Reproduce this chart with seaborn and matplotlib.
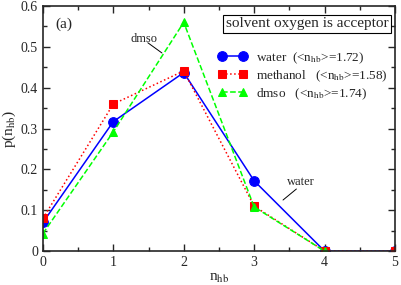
import matplotlib
matplotlib.use("Agg")
import matplotlib.pyplot as plt
from matplotlib.ticker import MultipleLocator, FormatStrFormatter
import seaborn as sns

n_hb = [0, 1, 2, 3, 4, 5]
water = [0.070, 0.317, 0.437, 0.172, 0.0, 0.0]
methanol = [0.080, 0.360, 0.441, 0.110, 0.0, 0.0]
dmso_x = [0, 1, 2, 3, 4]
dmso = [0.043, 0.292, 0.560, 0.108, 0.0]
labels = ['water  (<n$_{\\rm hb}$>=1.72)',
          'methanol   (<n$_{\\rm hb}$>=1.58)',
          'dmso   (<n$_{\\rm hb}$>=1.74)']

sns.set_style("ticks")
plt.rcParams['font.family'] = ['Liberation Serif', 'DejaVu Serif']
plt.rcParams['mathtext.fontset'] = 'stix'

fig = plt.figure(figsize=(4.01, 2.85), dpi=100)
ax = fig.add_axes([0.107, 0.119, 0.878, 0.860])

sns.lineplot(x=n_hb, y=water, ax=ax, color='#0000ff', marker='o', markersize=7,
             markeredgecolor='#0000ff', linestyle='-', linewidth=1.1, label=labels[0])
sns.lineplot(x=n_hb, y=methanol, ax=ax, color='#ff0000', marker='s', markersize=6,
             markeredgecolor='#ff0000', linestyle=':', linewidth=1.1, label=labels[1])
sns.lineplot(x=dmso_x, y=dmso, ax=ax, color='#00ff00', marker='^', markersize=6,
             markeredgecolor='#00ff00', linestyle='--', linewidth=1.1, label=labels[2])

ax.set_xlim(0, 5)
ax.set_ylim(0, 0.6)
ax.xaxis.set_major_locator(MultipleLocator(1))
ax.xaxis.set_minor_locator(MultipleLocator(0.5))
ax.yaxis.set_major_locator(MultipleLocator(0.1))
ax.yaxis.set_minor_locator(MultipleLocator(0.05))
ax.yaxis.set_major_formatter(FormatStrFormatter('%g'))
ax.tick_params(which='both', direction='in', top=True, right=True, labelsize=10, width=1)
ax.tick_params(which='major', length=5)
ax.tick_params(which='minor', length=3)
for s in ax.spines.values():
    s.set_linewidth(1.2)

ax.set_xlabel('n$_{\\rm hb}$', fontsize=11, labelpad=2)
ax.set_ylabel('p(n$_{\\rm hb}$)', fontsize=11, labelpad=2)

ax.text(0.3, 0.555, '(a)', fontsize=11, ha='center', va='center')
ax.text(3.75, 0.556, 'solvent oxygen is acceptor', fontsize=11, ha='center', va='center',
        bbox=dict(boxstyle='square,pad=0.15', facecolor='white', edgecolor='black', linewidth=0.8))
ax.text(1.43, 0.52, 'dmso', fontsize=9, ha='center', va='center')
ax.plot([1.49, 1.69], [0.51, 0.485], color='black', linewidth=0.7)
ax.text(3.67, 0.168, 'water', fontsize=9, ha='center', va='center')
ax.plot([3.6, 3.41], [0.152, 0.125], color='black', linewidth=0.7)

ax.legend(loc='upper left', bbox_to_anchor=(0.485, 0.836), frameon=False, fontsize=9.5,
          numpoints=2, handlelength=2.2, labelspacing=0.2, handletextpad=0.7,
          borderaxespad=0, borderpad=0.3)

fig.savefig('out.png', dpi=100)
